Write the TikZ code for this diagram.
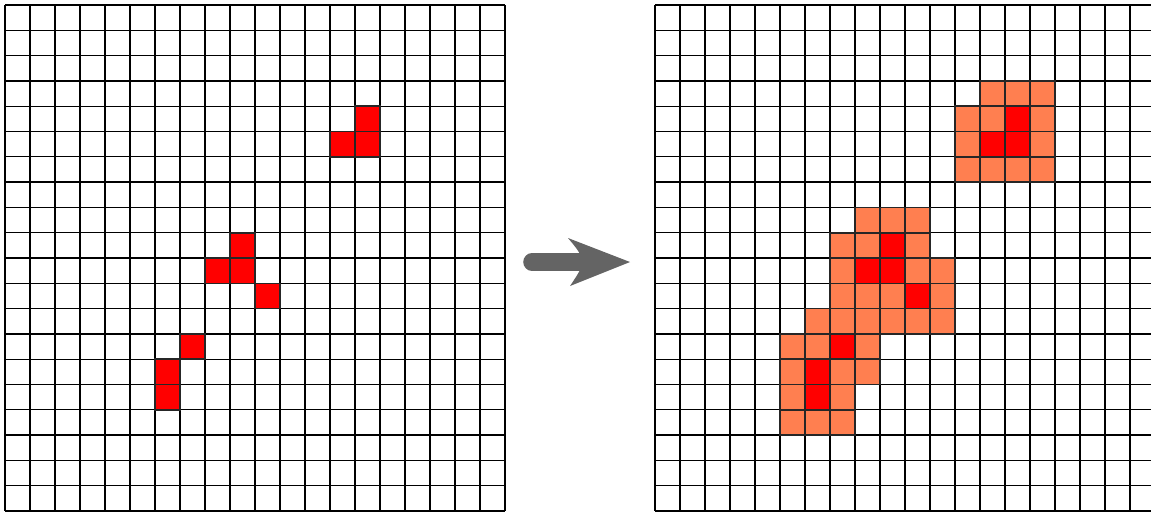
\documentclass[tikz,border=0pt]{standalone}
\definecolor{salmonc}{RGB}{255,127,80}
\definecolor{redc}{RGB}{255,0,0}
\definecolor{arrowgray}{RGB}{100,100,100}
\tikzset{
  gridline/.style={draw=black, line width=0.75pt},
  cellbox/.style={draw=black!85, line width=0.9pt},
}
\newcommand\mycell[4]{\path[fill=#4, cellbox] ({#1+25*#2},{5+25.3*#3}) rectangle ++(25,25.3);}
\begin{document}
\begin{tikzpicture}[x=0.02cm,y=-0.02cm]
\useasboundingbox[fill=white] (0,0) rectangle (1151,512);
% left grid
\foreach \i in {0,...,20} \draw[gridline] ({5+25*\i},5) -- ({5+25*\i},511);
\foreach \j in {0,...,20} \draw[gridline] (5,{5+25.3*\j}) -- (505,{5+25.3*\j});
% right grid
\foreach \i in {0,...,20} \draw[gridline] ({655+25*\i},5) -- ({655+25*\i},511);
\foreach \j in {0,...,20} \draw[gridline] (655,{5+25.3*\j}) -- (1155,{5+25.3*\j});
% left red cells
\foreach \c/\r in {14/4,13/5,14/5,9/9,8/10,9/10,10/11,7/13,6/14,6/15}
  {\mycell{5}{\c}{\r}{redc}}
% right salmon cells
\foreach \c/\r in {13/3,14/3,15/3, 12/4,13/4,15/4, 12/5,15/5, 12/6,13/6,14/6,15/6,
  8/8,9/8,10/8, 7/9,8/9,10/9, 7/10,10/10,11/10, 7/11,8/11,9/11,11/11,
  6/12,7/12,8/12,9/12,10/12,11/12, 5/13,6/13,8/13, 5/14,7/14,8/14, 5/15,7/15, 5/16,6/16,7/16}
  {\mycell{655}{\c}{\r}{salmonc}}
% right red cells
\foreach \c/\r in {14/4,13/5,14/5,9/9,8/10,9/10,10/11,7/13,6/14,6/15}
  {\mycell{655}{\c}{\r}{redc}}
% arrow
\coordinate (ashaft) at (532,262);
\coordinate (aend) at (582,262);
\coordinate (atip) at (630,262);
\draw[arrowgray, line width=10pt, line cap=round] (ashaft) -- (aend);
\fill[arrowgray] (atip) -- (568,238) .. controls (578,250) .. (584,262) .. controls (578,274) .. (570,286) -- cycle;
\end{tikzpicture}
\end{document}
